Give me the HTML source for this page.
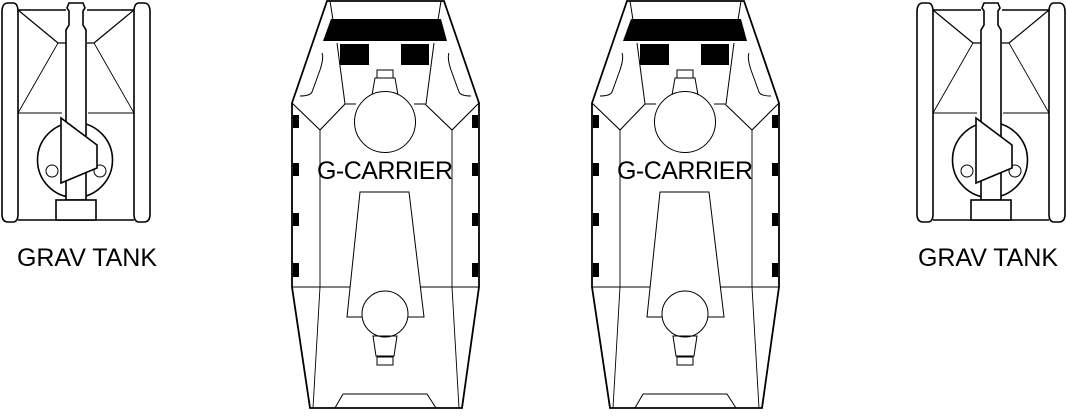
<!DOCTYPE html>
<html><head><meta charset="utf-8"><style>
body{margin:0;background:#fff;width:1066px;height:411px;overflow:hidden}
svg text{font-family:"Liberation Sans",sans-serif;fill:#000}
</style></head><body>
<svg width="1066" height="411" viewBox="0 0 1066 411" fill="none" stroke="#000">
<defs>
<g id="tank" stroke-width="1.6">
  <path d="M8,3 H13 Q18,3 18,12 V214 Q18,222 13,222 H8 Q2,222 2,214 V12 Q2,3 8,3 Z"/>
  <path d="M139,3 H144 Q150,3 150,12 V214 Q150,222 144,222 H139 Q134,222 134,214 V12 Q134,3 139,3 Z"/>
  <path d="M18,10 H66 M87,10 H134 M18,220 H134"/>
  <path d="M18,10 L58,43 H66 M134,10 L94,43 H87" stroke-width="1.2"/>
  <path d="M58,43 L18,113 M94,43 L134,113 M18,113 H62 M88,113 H134" stroke-width="0.9"/>
  <circle cx="75" cy="160" r="37.5" fill="#fff"/>
  <circle cx="52" cy="171" r="6" stroke-width="1"/>
  <circle cx="100" cy="171" r="6" stroke-width="1"/>
  <path d="M69,3 H83 L85,8 L83,11 V25 L86,30 V200 H66 V30 L69,25 V11 L67,8 Z" fill="#fff"/>
  <path d="M61,118 L97,145 V168 L61,183 Z" fill="#fff"/>
  <rect x="56" y="200" width="40" height="20" fill="#fff"/>
</g>
<g id="carrier">
  <path d="M327,1 H444 L479,103 V287 L462,408 H310 L292,287 V103 Z" stroke-width="1.8"/>
  <path d="M292,103 L320,130 L345,104 H356 M479,103 L452,130 L425,104 H414" stroke-width="1.1"/>
  <path d="M320,130 V287 L313,408 M452,130 V287 L459,408 M292,287 H479" stroke-width="0.9"/>
  <path d="M330,1 L333,20 M441,1 L438,20 M337,43 L345,104 M434,43 L426,104" stroke-width="1"/>
  <path d="M331,19 H441 L447,41 H323 Z" fill="#000" stroke="none"/>
  <rect x="340" y="44" width="29" height="21" fill="#000" stroke="none"/>
  <rect x="401" y="44" width="28" height="21" fill="#000" stroke="none"/>
  <path d="M322,53 Q324,58 320,70 L312,92 Q310,96 300,96" stroke-width="1"/>
  <path d="M449,53 Q447,58 451,70 L459,92 Q461,96 471,96" stroke-width="1"/>
  <rect x="377" y="70" width="16" height="8" stroke-width="1"/>
  <path d="M375,78 H395 L398,95 H372 Z" stroke-width="1"/>
  <circle cx="385" cy="122" r="30.5" fill="#fff" stroke-width="1"/>
  <path d="M360,192 H409 L424,317 H347 Z" stroke-width="1" fill="#fff"/>
  <circle cx="385" cy="314" r="23" fill="#fff" stroke-width="1"/>
  <path d="M373,336 H397 L394,356 H376 Z" stroke-width="1"/>
  <rect x="377" y="357" width="16" height="8" stroke-width="1"/>
  <path d="M343,394 H427 L436,408 M343,394 L335,408" stroke-width="1"/>
  <g fill="#000" stroke="none">
    <rect x="293" y="115" width="6" height="13"/><rect x="293" y="163" width="6" height="13"/>
    <rect x="293" y="213" width="6" height="13"/><rect x="293" y="263" width="6" height="14"/>
    <rect x="472" y="115" width="6" height="13"/><rect x="472" y="163" width="6" height="13"/>
    <rect x="472" y="213" width="6" height="13"/><rect x="472" y="263" width="6" height="14"/>
  </g>
</g>
</defs>
<use href="#tank"/>
<use href="#tank" transform="translate(915,0)"/>
<use href="#carrier"/>
<use href="#carrier" transform="translate(300,0)"/>
<g stroke="none">
<text x="87" y="266" font-size="25" text-anchor="middle" textLength="140">GRAV TANK</text>
<text x="988" y="266" font-size="25" text-anchor="middle" textLength="140">GRAV TANK</text>
<text x="385" y="179" font-size="25" text-anchor="middle" textLength="136">G-CARRIER</text>
<text x="685" y="179" font-size="25" text-anchor="middle" textLength="136">G-CARRIER</text>
</g>
</svg>
</body></html>
